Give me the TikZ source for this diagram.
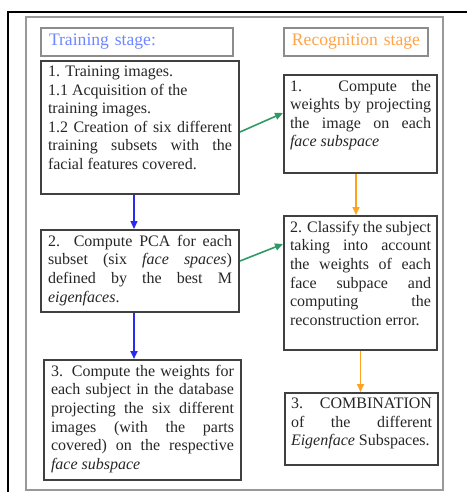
\documentclass[tikz,border=0pt]{standalone}
\usepackage{fontspec}
\setmainfont{Liberation Serif}
\usetikzlibrary{arrows.meta}
\definecolor{trainblue}{HTML}{2A2AF0}
\definecolor{recogorange}{HTML}{FFA21E}
\definecolor{linkgreen}{HTML}{2E9A66}
\definecolor{headblue}{HTML}{6E86FF}
\definecolor{headorange}{HTML}{FFA347}
\newcommand{\stepbody}[3]{\parbox[c][#1][t]{#2}{#3}}

\begin{document}
\begin{tikzpicture}[x=0.5pt, y=-0.5pt,
  stepbox/.style={draw=black!75, line width=1pt, inner xsep=3.5pt, inner ysep=2.5pt,
    anchor=north west, text=black!85, font=\fontsize{8}{9.3}\selectfont},
  headbox/.style={draw=black!45, line width=1pt, inner xsep=4pt, inner ysep=0pt,
    anchor=north west, minimum height=14pt, font=\fontsize{8.8}{10}\selectfont},
  flow/.style={-{Triangle[length=4pt,width=3.5pt]}, line width=0.8pt}]
  \useasboundingbox (0,0) rectangle (467,492);
  \draw[line width=1pt] (8,492) -- (8,12) -- (467,12);
  \draw[black!40, line width=0.8pt] (26,17) rectangle (443,490);

  \node[headbox, text=headblue, text width=88pt, align=left] (hT) at (40,27) {Training stage:};
  \node[headbox, text=headorange, inner xsep=0.5pt, text width=71pt, align=center] (hR) at (283,27) {Recognition stage};

  \node[stepbox] (T1) at (40,60) {\stepbody{61.5pt}{92pt}{1. Training images.\\
    1.1 Acquisition of the\\
    training images.\\
    1.2 Creation of six different\linebreak training subsets with the\linebreak facial features covered.}};
  \node[stepbox] (T2) at (40,229) {\stepbody{36pt}{92pt}{2. Compute PCA for each\linebreak
    subset (six \textit{face spaces})\linebreak defined by the best M\linebreak \textit{eigenfaces}.}};
  \node[stepbox] (T3) at (43,359) {\stepbody{55pt}{91.5pt}{3. Compute the weights for\linebreak
    each subject in the database\linebreak projecting the six different\linebreak
    images (with the parts\linebreak covered) on the respective\linebreak \textit{face subspace}}};

  \node[stepbox, inner xsep=3pt] (R1) at (283,74) {\stepbody{44pt}{70.5pt}{1. Compute the\linebreak
    weights by projecting\linebreak the image on each\linebreak \textit{face subspace}}};
  \node[stepbox, inner xsep=3pt] (R2) at (283,215) {\stepbody{62pt}{70.5pt}{2. Classify the subject\linebreak
    taking into account\linebreak the weights of each\linebreak face subpace and\linebreak
    computing the\linebreak reconstruction error.}};
  \node[stepbox, inner xsep=3pt] (R3) at (284,392) {\stepbody{31pt}{70.5pt}{3. COMBINATION\linebreak
    of the different\linebreak \textit{Eigenface} Subspaces.}};

  \draw[flow, trainblue, line width=0.6pt] ([xshift=-3pt]T1.south) -- ([xshift=-3pt]T1.south |- T2.north);
  \draw[flow, trainblue, line width=1pt] ([xshift=-3pt]T2.south) -- ([xshift=-3pt]T2.south |- T3.north);
  \draw[flow, recogorange] ([xshift=-2.25pt]R1.south) -- ([xshift=-2.25pt]R1.south |- R2.north);
  \draw[flow, recogorange] (R2.south) -- (R2.south |- R3.north);
  \draw[flow, linkgreen] ([yshift=-2.25pt]T1.east) -- ([yshift=5.5pt]R1.west);
  \draw[flow, linkgreen] ([yshift=5pt]T2.east) -- ([yshift=19.5pt]R2.west);
\end{tikzpicture}
\end{document}
